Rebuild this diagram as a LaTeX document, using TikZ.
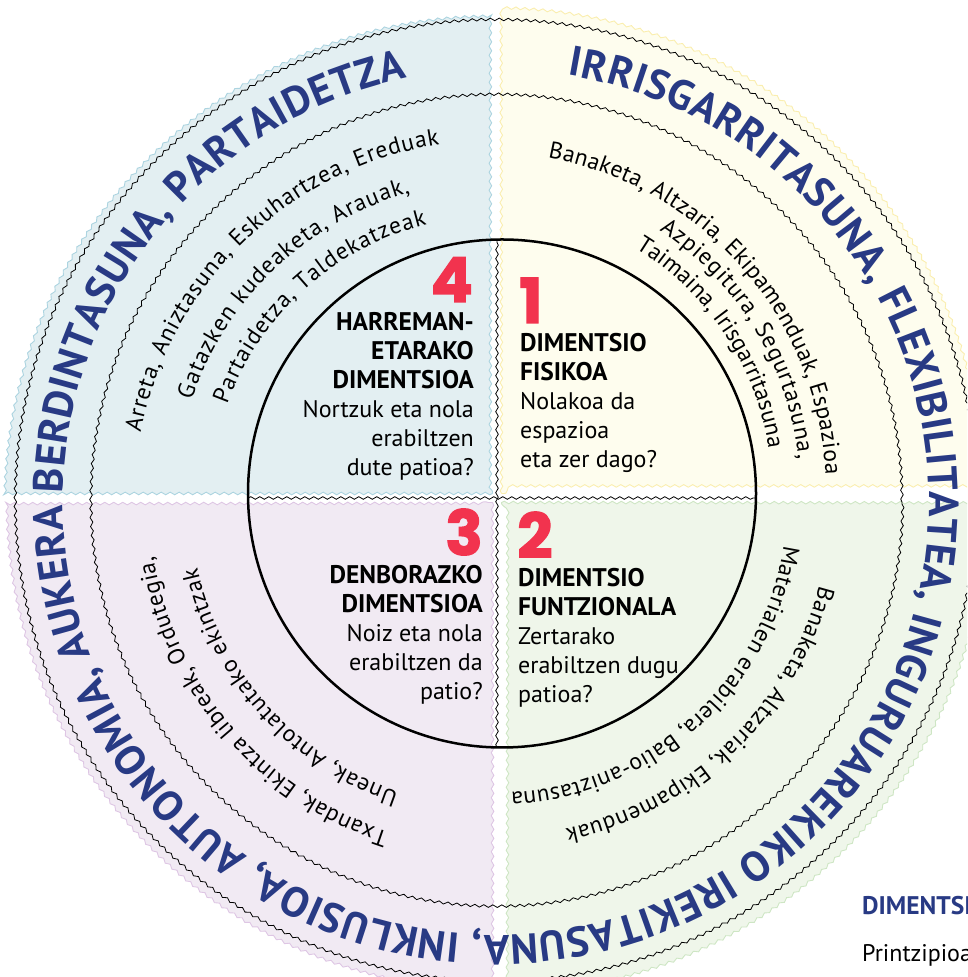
\documentclass[tikz,border=0pt]{standalone}
\usepackage{fontspec}
\setmainfont{PT Sans}
\newfontfamily\numfont{Poppins}[FakeBold=2]
\usetikzlibrary{calc,decorations.pathmorphing,decorations.text}

\definecolor{fillblue}{RGB}{227,239,242}
\definecolor{edgeblue}{RGB}{172,212,224}
\definecolor{fillyellow}{RGB}{254,253,238}
\definecolor{edgeyellow}{RGB}{250,238,175}
\definecolor{fillviolet}{RGB}{241,234,243}
\definecolor{edgeviolet}{RGB}{222,198,228}
\definecolor{fillgreen}{RGB}{239,246,234}
\definecolor{edgegreen}{RGB}{206,230,196}
\definecolor{ringblue}{RGB}{40,58,132}
\definecolor{numred}{RGB}{242,51,78}

\newcommand{\rimfont}{\fontsize{42}{42}\selectfont\bfseries\color{ringblue}}
\newcommand{\bandfont}{\fontsize{23.5}{23.5}\selectfont}
\newcommand{\dimhead}[1]{{\fontsize{25.5}{29}\selectfont\bfseries #1}}

\begin{document}
\begin{tikzpicture}[x=1pt,y=1pt,
    wavy/.style={decorate, decoration={snake, amplitude=1.3pt, segment length=9pt}},
    blackwave/.style={wavy, draw=black, line width=0.8pt},
    quarter/.style={wavy, line width=0.9pt},
    bandtext/.style={decorate, decoration={text along path, text align={fit to path}}},
    dimtitle/.style={inner sep=0pt, font=\fontsize{24}{29}\selectfont},
    dimnum/.style={inner sep=0pt, text=numred, font=\numfont\bfseries\fontsize{62}{62}\selectfont}]
    \useasboundingbox (0,0) rectangle (967,977);
    \clip (0,0) rectangle (967,977);
    \coordinate (Om) at (496,475);
    \coordinate (Oi) at (502,483.5);
    \coordinate (Oy) at (486,485);

    % quarters
    \path[quarter, fill=fillblue, draw=edgeblue] (492.5,483.5) -- ($(Om)+(179:489)$) arc[start angle=179, end angle=90.4, radius=489] -- cycle;
    \path[quarter, fill=fillyellow, draw=edgeyellow] (501.5,483.5) -- ($(Om)+(89.4:489)$) arc[start angle=89.4, end angle=1, radius=489] -- cycle;
    \path[quarter, fill=fillgreen, draw=edgegreen] (501.5,474.5) -- ($(Om)+(-0.1:489)$) arc[start angle=-0.1, end angle=-89.4, radius=489] -- cycle;
    \path[quarter, fill=fillviolet, draw=edgeviolet] (492.5,474.5) -- ($(Om)+(-90.4:489)$) arc[start angle=-90.4, end angle=-179.9, radius=489] -- cycle;

    \draw[blackwave] (Om) circle[radius=481];
    \draw[blackwave] (Om) circle[radius=406];
    \draw[blackwave] (497,229.5) -- (497,737.5);
    \draw[blackwave] (248,479) -- (756,479);
    \draw[line width=2.5pt] (Oi) circle[radius=254];

    % outer ring
    \path[bandtext, decoration={text={|\rimfont|IRRISGARRITASUNA, FLEXIBILITATEA, INGURUAREKIKO IREKITASUNA, INKLUSIOA, AUTONOMIA, AUKERA BERDINTASUNA, PARTAIDETZA}}] ($(Om)+(80.5:433)$) arc[start angle=80.5, end angle=-258.2, radius=433];

    % middle ring
    \path[bandtext, decoration={text={|\bandfont|Arreta, Aniztasuna, Eskuhartzea, Ereduak}}] ($(Om)+(169:362)$) arc[start angle=169, end angle=99, radius=362];
    \path[bandtext, decoration={text={|\bandfont|Gatazken kudeaketa, Arauak,}}] ($(Om)+(161.5:321)$) arc[start angle=161.5, end angle=105.5, radius=321];
    \path[bandtext, decoration={text={|\bandfont|Partaidetza, Taldekatzeak}}] ($(Om)+(160:286)$) arc[start angle=160, end angle=104, radius=286];

    \path[bandtext, decoration={text={|\bandfont|Banaketa, Altzaria, Ekipamenduak, Espazioa}}] ($(Oy)+(79.5:340)$) arc[start angle=79.5, end angle=3, radius=340];
    \path[bandtext, decoration={text={|\bandfont|Azpiegitura, Segurtasuna,}}] ($(Oy)+(56.5:314)$) arc[start angle=56.5, end angle=6, radius=314];
    \path[bandtext, decoration={text={|\bandfont|Taimaina, Irisgarritasuna}}] ($(Oy)+(58.5:286)$) arc[start angle=58.5, end angle=9.5, radius=286];

    \path[bandtext, decoration={text={|\bandfont|Banaketa, Altzariak, Ekipamenduak}}] ($(Om)+(-14.5:334)$) arc[start angle=-14.5, end angle=-78, radius=334];
    \path[bandtext, decoration={text={|\bandfont|Materialen erabilera, Balio-aniztasuna}}] ($(Om)+(-8.5:291)$) arc[start angle=-8.5, end angle=-87, radius=291];

    \path[bandtext, decoration={text={|\bandfont|Txandak, Ekintza libreak, Ordutegia,}}] ($(Om)+(-108:347)$) arc[start angle=-108, end angle=-171, radius=347];
    \path[bandtext, decoration={text={|\bandfont|Uneak, Antolatutako ekintzak}}] ($(Om)+(-108.5:306)$) arc[start angle=-108.5, end angle=-167.5, radius=306];

    % dimensions
    \node[dimnum, anchor=base east] (n4) at (473,675) {4};
    \node[dimtitle, anchor=base east, align=right] (d4) at (474,501) {\dimhead{HARREMAN-}\\\dimhead{ETARAKO}\\\dimhead{DIMENTSIOA}\\Nortzuk eta nola\\erabiltzen\\dute patioa?};
    \node[dimnum, anchor=base west] (n1) at (519,654) {1};
    \node[dimtitle, anchor=base west, align=left] (d1) at (520,509) {\dimhead{DIMENTSIO}\\\dimhead{FISIKOA}\\Nolakoa da\\espazioa\\eta zer dago?};
    \node[dimnum, anchor=base east] (n3) at (483,422) {3};
    \node[dimtitle, anchor=base east, align=right] (d3) at (483,277) {\dimhead{DENBORAZKO}\\\dimhead{DIMENTSIOA}\\Noiz eta nola\\erabiltzen da\\patio?};
    \node[dimnum, anchor=base west] (n2) at (517,419) {2};
    \node[dimtitle, anchor=base west, align=left] (d2) at (518,274) {\dimhead{DIMENTSIO}\\\dimhead{FUNTZIONALA}\\Zertarako\\erabiltzen dugu\\patioa?};

    \node[anchor=base west, inner sep=0pt, text=ringblue, font=\fontsize{25.5}{25.5}\selectfont\bfseries] (dimhead) at (862,62) {DIMENTSIOAK};
    \node[anchor=base west, inner sep=0pt, font=\fontsize{24}{24}\selectfont] (printz) at (862,16) {Printzipioak};
\end{tikzpicture}
\end{document}
